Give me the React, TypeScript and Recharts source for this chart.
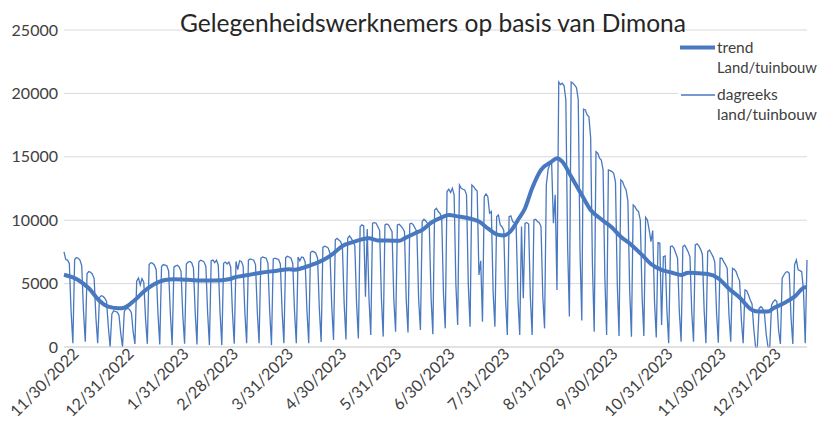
import React from 'react';
import { LineChart, Line, XAxis, YAxis, CartesianGrid } from 'recharts';

// first observation: Tuesday 29 Nov 2022, one value per day
const startDate = '11/29/2022';

// daily values (rows = calendar weeks Mon..Sun; first row starts on Tuesday)
const dailyValues: number[] = [
  7500, 6900, 6850, 6600, 2800, 300,
  6900, 7050, 7000, 6850, 6400, 2800, 420,
  5800, 5950, 5900, 5750, 5400, 2300, 290,
  3900, 4050, 4000, 3850, 3600, 1600, 0,
  2600, 2850, 2800, 2750, 2500, 1100, 0,
  2800, 3000, 3050, 2950, 2700, 1200, 240,
  5200, 5450, 4900, 5400, 5100, 2200, 250,
  6500, 6650, 6600, 6450, 6100, 2600, 200,
  6350, 6500, 6450, 6400, 6000, 2600, 150,
  6300, 6400, 6450, 6300, 5950, 2500, 250,
  6550, 6700, 6750, 6650, 6250, 2700, 200,
  6700, 6850, 6800, 6700, 6350, 2700, 150,
  6800, 6850, 6650, 6850, 6450, 2700, 150,
  6600, 6700, 6550, 6700, 6300, 2700, 250,
  6750, 6100, 6800, 6750, 6400, 2700, 300,
  6850, 6950, 6900, 6850, 6500, 2800, 300,
  7000, 7100, 7050, 7000, 6600, 2800, 150,
  6950, 7000, 6950, 6900, 6550, 2800, 300,
  7050, 7150, 7100, 7000, 6600, 2800, 300,
  7100, 6800, 7100, 7050, 6700, 2900, 300,
  7450, 7550, 7500, 7400, 7000, 3000, 400,
  7850, 7950, 7900, 7800, 7400, 3200, 550,
  8450, 8570, 8440, 8310, 7900, 3400, 600,
  8570, 8760, 8570, 8310, 8000, 3400, 680,
  9490, 9630, 9550, 3970, 9300, 3800, 950,
  9760, 9810, 9760, 9490, 9200, 3800, 820,
  9630, 9700, 9630, 9360, 9100, 3700, 1200,
  9630, 9680, 9550, 9360, 9100, 3700, 1150,
  9700, 9760, 9630, 9360, 9100, 3700, 1340,
  9890, 10070, 9940, 9760, 9500, 3900, 1000,
  10810, 10940, 10680, 10550, 10200, 4200, 1470,
  12260, 12440, 12180, 12520, 12000, 4900, 1740,
  12780, 12520, 12440, 12390, 12000, 4900, 1600,
  12780, 12650, 12440, 12300, 5680, 6800, 2000,
  11860, 12070, 11860, 10550, 10680, 4300, 1600,
  10280, 10410, 9630, 9490, 9200, 3800, 950,
  10280, 10340, 9890, 9800, 9500, 3800, 950,
  9500, 3840, 9760, 9810, 9700, 3900, 950,
  10020, 10070, 9890, 9800, 9500, 4000, 1470,
  12800, 14000, 14400, 14500, 9760, 12000, 4500,
  20900, 20700, 20800, 20600, 19500, 8000, 2400,
  20900, 20800, 20650, 20450, 19500, 7500, 2100,
  18750, 18700, 18300, 18170, 16500, 6500, 1200,
  15400, 15280, 14890, 14750, 13970, 5500, 950,
  13970, 13910, 13830, 13700, 13000, 5000, 870,
  13180, 13050, 12650, 12390, 11500, 4500, 815,
  11200, 11070, 10800, 10680, 10000, 4000, 870,
  10230, 10020, 9230, 8310, 9180, 3600, 760,
  8230, 8180, 1740, 7130, 7180, 2900, 290,
  7920, 7970, 7780, 7390, 7000, 2800, 420,
  7920, 8020, 7780, 7500, 7100, 2800, 420,
  8050, 8130, 7970, 7700, 7300, 2900, 290,
  7520, 7650, 7390, 7130, 6700, 2700, 340,
  7000, 7000, 6730, 6500, 6200, 2500, 420,
  6200, 6130, 5940, 5550, 5200, 2100, 290,
  4500, 4440, 4100, 3700, 3400, 1400, 0,
  0, 3050, 3180, 3050, 2660, 1000, 0,
  0, 3300, 3580, 3710, 3580, 1300, 240,
  5420, 5680, 5900, 5940, 5810, 2300, 240,
  6500, 6860, 6080, 6020, 5940, 4500, 300,
  6860,
];

// trend readings (day index since start, value)
const trendDays = [
  0, 8, 14, 20, 25, 31, 34, 40, 45, 51, 57, 62, 70, 78, 85, 93, 96, 104, 111, 119,
  127, 130, 134, 141, 147, 152, 157, 162, 168, 172, 177, 183, 189, 192, 198, 202, 207, 213, 217, 222,
  228, 234, 239, 245, 248, 252, 256, 260, 264, 269, 275, 278, 281, 286, 292, 297, 303, 309, 314, 320,
  326, 331, 337, 343, 348, 352, 358, 363, 369, 375, 381, 388, 392, 397, 400, 406, 412, 418, 419,
];
const trendValues = [
  5700, 5290, 4630, 3650, 3180, 3050, 3100, 3710, 4370, 4970, 5290, 5340, 5300, 5240, 5240, 5340, 5480, 5680, 5860, 6000,
  6130, 6090, 6210, 6550, 6920, 7390, 7970, 8230, 8490, 8570, 8400, 8390, 8370, 8570, 8970, 9230, 9800, 10230, 10410, 10300,
  10150, 9890, 9360, 8840, 8800, 9150, 10020, 10940, 12520, 13970, 14620, 14890, 14620, 13440, 11990, 10810, 10080, 9430, 8700, 8050,
  7260, 6550, 6080, 5860, 5680, 5860, 5810, 5760, 5420, 4600, 3900, 2920, 2790, 2790, 3050, 3450, 3970, 4710, 4710,
];

const tickLabels = [
  '11/30/2022', '12/31/2022', '1/31/2023', '2/28/2023', '3/31/2023', '4/30/2023', '5/31/2023',
  '6/30/2023', '7/31/2023', '8/31/2023', '9/30/2023', '10/31/2023', '11/30/2023', '12/31/2023',
];
const yTicks = [0, 5000, 10000, 15000, 20000, 25000];

const titleText = 'Gelegenheidswerknemers op basis van Dimona';
const seriesNames = ['trend', 'Land/tuinbouw', 'dagreeks', 'land/tuinbouw'];

const BLUE = '#4878bf';
const FONT = 'Lato, "Open Sans", sans-serif';

const toUTC = (s: string) => {
  const [m, d, y] = s.split('/').map(Number);
  return Date.UTC(y, m - 1, d);
};
const dayIndex = (s: string) => Math.round((toUTC(s) - toUTC(startDate)) / 86400000);

const trendMap = new Map<number, number>();
trendDays.forEach((d, i) => trendMap.set(d, trendValues[i]));

const data = dailyValues.map((v, i) => ({
  day: i,
  value: v,
  trend: trendMap.has(i) ? (trendMap.get(i) as number) : null,
}));

const tickDays = tickLabels.map(dayIndex);
const labelByDay = new Map<number, string>();
tickDays.forEach((d, i) => labelByDay.set(d, tickLabels[i]));

const XTick = (props: any) => {
  const { x, y, payload } = props;
  const label = labelByDay.get(payload.value) ?? '';
  const ax = x + 14;
  const ay = y + 8;
  return (
    <text
      x={ax}
      y={ay}
      textAnchor="end"
      transform={`rotate(-45, ${ax}, ${ay})`}
      fill="#404040"
      fontSize={16}
      fontFamily={FONT}
    >
      {label}
    </text>
  );
};

export default function App() {
  return (
    <div style={{ position: 'relative', width: 823, height: 423, background: '#fff' }}>
      <style>{`body{margin:0;}`}</style>
      <LineChart
        width={823}
        height={423}
        data={data}
        margin={{ top: 30, right: 16, bottom: 0, left: 0 }}
      >
        <CartesianGrid vertical={false} stroke="#d9d9d9" strokeWidth={1} />
        <XAxis
          dataKey="day"
          type="number"
          domain={[0, dailyValues.length - 1]}
          ticks={tickDays}
          interval={0}
          tick={<XTick />}
          tickLine={false}
          tickSize={0}
          tickMargin={0}
          axisLine={{ stroke: '#d9d9d9' }}
          height={76}
          allowDecimals={false}
        />
        <YAxis
          domain={[0, 25000]}
          ticks={yTicks}
          axisLine={false}
          tickLine={false}
          tickSize={0}
          tickMargin={6}
          width={64}
          tick={{ fill: '#404040', fontSize: 16, fontFamily: FONT }}
          interval={0}
        />
        <Line
          type="linear"
          dataKey="value"
          stroke={BLUE}
          strokeWidth={1.3}
          dot={false}
          activeDot={false}
          isAnimationActive={false}
        />
        <Line
          type="monotone"
          dataKey="trend"
          stroke={BLUE}
          strokeWidth={4}
          dot={false}
          activeDot={false}
          connectNulls
          isAnimationActive={false}
        />
      </LineChart>
      <svg
        width={823}
        height={423}
        style={{ position: 'absolute', left: 0, top: 0, pointerEvents: 'none' }}
      >
        <text x={180} y={32} fontSize={25} fontFamily={FONT} fill="#262626" textLength={506} lengthAdjust="spacingAndGlyphs">
          {titleText}
        </text>
        <rect x={678} y={35} width={145} height={92} fill="#fff" />
        <line x1={680} y1={47.5} x2={715} y2={47.5} stroke={BLUE} strokeWidth={4} />
        <text x={717} y={52.5} fontSize={15.5} fontFamily={FONT} fill="#404040">{seriesNames[0]}</text>
        <text x={717} y={72.5} fontSize={15.5} fontFamily={FONT} fill="#404040" textLength={100} lengthAdjust="spacingAndGlyphs">{seriesNames[1]}</text>
        <line x1={681} y1={95} x2={715} y2={95} stroke={BLUE} strokeWidth={1.3} />
        <text x={717} y={99.5} fontSize={15.5} fontFamily={FONT} fill="#404040">{seriesNames[2]}</text>
        <text x={717} y={119.5} fontSize={15.5} fontFamily={FONT} fill="#404040" textLength={100} lengthAdjust="spacingAndGlyphs">{seriesNames[3]}</text>
      </svg>
    </div>
  );
}
